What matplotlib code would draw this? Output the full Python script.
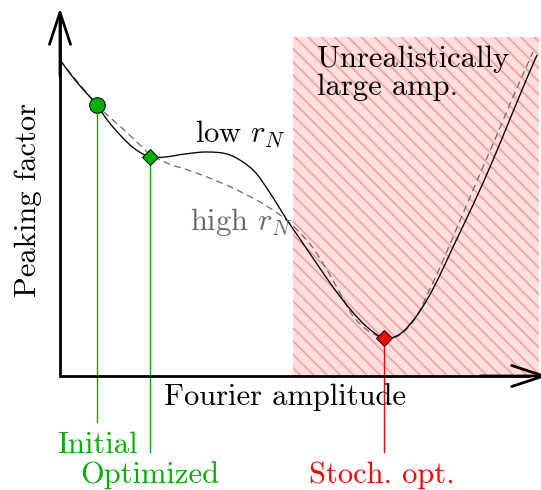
import numpy as np
import matplotlib
matplotlib.use("Agg")
import matplotlib.pyplot as plt
from matplotlib.patches import Rectangle, PathPatch
from matplotlib.path import Path

plt.rcParams['font.family'] = ['cmr10', 'DejaVu Serif']
plt.rcParams['mathtext.fontset'] = 'cm'
plt.rcParams['axes.formatter.use_mathtext'] = True

# ---- data (amplitude, peaking factor) ----
low_x = [0, 15, 30, 37, 48, 62, 75, 90, 105, 125, 147, 170, 193, 210, 227, 240,
         257, 273, 290, 307, 324, 340, 355, 368, 380, 393, 413, 433, 450, 467, 477]
low_y = [316, 296, 279, 271, 255, 239, 227, 219, 219, 222, 224, 221, 206, 183, 156, 137,
         112, 89, 67, 49, 38, 42, 58, 78, 101, 129, 171, 216, 257, 298, 321]

high_x = [0, 22, 42, 62, 82, 92, 112, 125, 147, 173, 200, 220, 233, 240, 253, 267,
          280, 293, 307, 320, 328, 340, 355, 368, 381, 396, 416, 436, 453, 473]
high_y = [316, 289, 266, 248, 229, 220, 211, 207, 199, 188, 174, 161, 150, 143, 128, 106,
          83, 60, 46, 39, 37, 41, 57, 83, 111, 146, 193, 239, 279, 324]

initial_pt = (37, 271)
optimized_pt = (90, 219)
stoch_pt = (324, 38)

region_x = (233, 479)     # unrealistically large amplitude region
region_top = 339

GREEN = '#00b000'
RED = '#ff0000'
GRAY = '#6a6a6a'
FS = 22


def smooth_path(xs, ys):
    """Catmull-Rom curve through the points, drawn as cubic Bezier segments."""
    p = np.column_stack([xs, ys]).astype(float)
    ext = np.vstack([p[0], p, p[-1]])
    verts = [p[0]]
    codes = [Path.MOVETO]
    for i in range(1, len(ext) - 2):
        p0, p1, p2, p3 = ext[i - 1], ext[i], ext[i + 1], ext[i + 2]
        verts += [p1 + (p2 - p0) / 6.0, p2 - (p3 - p1) / 6.0, p2]
        codes += [Path.CURVE4] * 3
    return Path(verts, codes)


fig = plt.figure(figsize=(5.41, 4.90), dpi=100)
ax = fig.add_axes([0, 0, 1, 1])
ax.set_xlim(-60, 481)
ax.set_ylim(-114, 376)
ax.axis('off')

# hatched region
rect = Rectangle((region_x[0], 0), region_x[1] - region_x[0], region_top,
                 facecolor='#ffdede', edgecolor='none', zorder=0)
ax.add_patch(rect)
for c in np.arange(region_x[0] - 5, region_x[1] + region_top + 14, 13.3):
    ln, = ax.plot([c - region_top - 20, c + 20], [region_top + 20, -20],
                  color='#ff9a9a', lw=1.15, zorder=0.5, solid_capstyle='butt')
    ln.set_clip_path(rect)

# curves
ax.add_patch(PathPatch(smooth_path(high_x, high_y), fill=False, edgecolor=GRAY,
                       lw=0.9, linestyle=(0, (5.5, 3.5)), zorder=2))
ax.add_patch(PathPatch(smooth_path(low_x, low_y), fill=False, edgecolor='black',
                       lw=0.95, zorder=3))

# vertical marker lines
ax.plot([initial_pt[0]] * 2, [initial_pt[1], -46], color=GREEN, lw=1.0, zorder=1)
ax.plot([optimized_pt[0]] * 2, [optimized_pt[1], -76], color=GREEN, lw=1.0, zorder=1)
ax.plot([stoch_pt[0]] * 2, [stoch_pt[1], -76], color=RED, lw=1.0, zorder=1)

ax.plot(*initial_pt, marker='o', ms=11.3, mfc=GREEN, mec='black', mew=0.7, zorder=5)
ax.plot(*optimized_pt, marker='D', ms=8.2, mfc=GREEN, mec='black', mew=0.7, zorder=5)
ax.plot(*stoch_pt, marker='D', ms=8.4, mfc=RED, mec='black', mew=0.7, zorder=5)

# axes with arrows
ax.plot([0, 0, 470], [360, 0, 0], color='black', lw=2.0, zorder=6,
        solid_joinstyle='miter', solid_capstyle='butt')
arrow = dict(arrowstyle='->,head_length=2.3,head_width=0.76', lw=2.0,
             color='black', shrinkA=0, shrinkB=0, mutation_scale=10)
ax.annotate('', xy=(0, 368), xytext=(0, 300), arrowprops=arrow,
            annotation_clip=False, zorder=6)
ax.annotate('', xy=(488, 0), xytext=(420, 0), arrowprops=arrow,
            annotation_clip=False, zorder=6)

# texts
ax.text(257, 309, 'Unrealistically', fontsize=FS, ha='left', va='baseline', zorder=7)
ax.text(257, 281, 'large amp.', fontsize=FS, ha='left', va='baseline', zorder=7)
ax.text(135, 233, r'low $r_N$', fontsize=FS, ha='left', va='baseline', zorder=7)
ax.text(130, 146, r'high $r_N$', fontsize=FS, ha='left', va='baseline', color=GRAY, zorder=7)
ax.text(104, -29, 'Fourier amplitude', fontsize=FS, ha='left', va='baseline', zorder=7)
ax.text(-32, 176, 'Peaking factor', fontsize=FS, ha='center', va='center',
        rotation=90, zorder=7)
ax.text(-3, -77, 'Initial', fontsize=FS, ha='left', va='baseline', color=GREEN, zorder=7)
ax.text(20, -107, 'Optimized', fontsize=FS, ha='left', va='baseline', color=GREEN, zorder=7)
ax.text(249, -107, 'Stoch. opt.', fontsize=FS, ha='left', va='baseline', color=RED, zorder=7)

fig.savefig('out.png', dpi=100)
